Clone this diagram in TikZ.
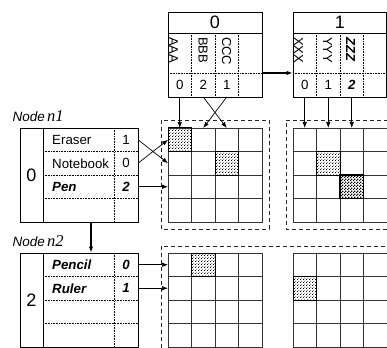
\documentclass[tikz,border=0pt]{standalone}
\usepackage{fontspec}
\setmainfont{Liberation Sans}
\newfontfamily\itserif{Liberation Serif}
\usetikzlibrary{arrows.meta,patterns}

% fine staggered dots for marked cells
\pgfdeclarepatternformonly{finedots}{\pgfqpoint{0pt}{0pt}}{\pgfqpoint{2.6pt}{2.6pt}}{\pgfqpoint{2.6pt}{2.6pt}}{%
  \pgfpathrectangle{\pgfqpoint{0.2pt}{0.2pt}}{\pgfqpoint{0.75pt}{0.75pt}}%
  \pgfpathrectangle{\pgfqpoint{1.5pt}{1.5pt}}{\pgfqpoint{0.75pt}{0.75pt}}%
  \pgfusepath{fill}}
% dense checkerboard for the strongly marked cell
\pgfdeclarepatternformonly{finechecks}{\pgfqpoint{0pt}{0pt}}{\pgfqpoint{2.6pt}{2.6pt}}{\pgfqpoint{2.6pt}{2.6pt}}{%
  \pgfpathrectangle{\pgfqpoint{0pt}{0pt}}{\pgfqpoint{1.3pt}{1.3pt}}%
  \pgfpathrectangle{\pgfqpoint{1.3pt}{1.3pt}}{\pgfqpoint{1.3pt}{1.3pt}}%
  \pgfusepath{fill}}

\tikzset{
  box/.style={draw, line width=0.8pt},
  dotline/.style={densely dotted, line width=0.6pt},
  gcell/.style={draw=black!80, line width=0.7pt, minimum size=23.5pt, inner sep=0pt, outer sep=0pt},
  hotcell/.style={draw=black, line width=1pt},
  frame/.style={dash pattern=on 4pt off 3pt, line width=0.7pt, draw=black!85},
  link/.style={-{Latex[length=6pt,width=4.5pt]}, line width=0.7pt},
  title/.style={font=\fontsize{18}{20}\selectfont, inner sep=0pt},
  vlab/.style={rotate=-90, anchor=west, inner sep=0pt, font=\fontsize{13}{15}\selectfont},
  numcell/.style={minimum width=23.5pt, minimum height=23.5pt, inner sep=0pt, outer sep=0pt, font=\fontsize{13.3}{15}\selectfont},
  itemname/.style={anchor=west, inner sep=0pt, font=\fontsize{13.3}{15}\selectfont},
  strong/.style={font=\fontsize{13.3}{15}\selectfont\bfseries\itshape},
  nodelabel/.style={anchor=base west, inner sep=0pt, font=\fontsize{13.5}{15}\selectfont\itshape},
}

\begin{document}
\begin{tikzpicture}[x=1pt, y=-1pt]
\useasboundingbox (0,0) rectangle (387,347);
\clip (0,0) rectangle (387,347);

% ---- 4x4 grids ----
\foreach \g/\gx/\gy in {A/168/128, B/293/128, C/168/253, D/293/253}
  \foreach \r in {0,1,2,3}
    \foreach \c in {0,1,2,3}
      \node[gcell] (\g\r\c) at ({\gx+11.75+23.5*\c},{\gy+11.75+23.5*\r}) {};

% marked cells
\foreach \k in {A00, A12, B11, C01, D10}
  \draw[hotcell, pattern=finedots] (\k.north west) rectangle (\k.south east);
\draw[hotcell, line width=1.3pt, pattern=finechecks] (B22.north west) rectangle (B22.south east);

% ---- dashed frames ----
\draw[frame] (161,120) rectangle (269,229);
\draw[frame] (395,120) -- (286,120) -- (286,229) -- (395,229);
\draw[frame] (161,355) -- (161,246) -- (395,246);

% ---- top box 0 ----
\node[box, minimum width=94pt, minimum height=85pt, inner sep=0pt] (t0) at (215,54.5) {};
\draw[box] (168,33) -- (262,33);
\draw[dotline] (168,73) -- (262,73);
\foreach \x in {191.5, 215, 238.5} \draw[dotline] (\x,33) -- (\x,97);
\node[title] (t0h) at (215,22.5) {0};
\node[vlab] (t0a) at (173.5,37) {AAA};
\node[vlab] (t0b) at (203,37) {BBB};
\node[vlab] (t0c) at (226.5,37) {CCC};
\node[numcell] (t0n0) at (179.75,85.25) {0};
\node[numcell] (t0n1) at (203.25,85.25) {2};
\node[numcell] (t0n2) at (226.75,85.25) {1};

% ---- top box 1 ----
\node[box, minimum width=93.5pt, minimum height=85pt, inner sep=0pt] (t1) at (339.75,54.5) {};
\draw[box] (293,33) -- (386.5,33);
\draw[dotline] (293,73) -- (386.5,73);
\foreach \x in {316.5, 340, 363.5} \draw[dotline] (\x,33) -- (\x,97);
\node[title] (t1h) at (339.75,22.5) {1};
\node[vlab] (t1a) at (298.5,37) {XXX};
\node[vlab] (t1b) at (327.5,37) {YYY};
\node[vlab, font=\fontsize{13}{15}\selectfont\bfseries\itshape] (t1c) at (350.5,37) {ZZZ};
\node[numcell] (t1n0) at (304.75,85.25) {0};
\node[numcell] (t1n1) at (328.25,85.25) {1};
\node[numcell, strong] (t1n2) at (351.75,85.25) {2};

% ---- node n1 ----
\node[nodelabel] (lab1) at (12.5,122) {Node\,{\itserif\fontsize{16.5}{18}\selectfont n1}};
\node[box, minimum width=118pt, minimum height=94pt, inner sep=0pt] (n1) at (79,175) {};
\draw[box] (43,128) -- (43,222);
\draw[dotline] (114,128) -- (114,222);
\foreach \y in {151.5, 175, 198.5} \draw[dotline] (43,\y) -- (138,\y);
\node[title] (n1k) at (31.5,175) {0};
\node[itemname] (n1a) at (52,139.75) {Eraser};
\node[itemname] (n1b) at (52,163.25) {Notebook};
\node[itemname, strong] (n1c) at (52,186.75) {Pen};
\node[numcell, minimum width=24pt] (n1v0) at (126,139.75) {1};
\node[numcell, minimum width=24pt] (n1v1) at (126,163.25) {0};
\node[numcell, minimum width=24pt, strong] (n1v2) at (126,186.75) {2};

% ---- node n2 ----
\node[nodelabel] (lab2) at (12.5,246) {Node\,{\itserif\fontsize{16.5}{18}\selectfont n2}};
\node[box, minimum width=118pt, minimum height=94pt, inner sep=0pt] (n2) at (79,300) {};
\draw[box] (43,253) -- (43,347);
\draw[dotline] (114,253) -- (114,347);
\foreach \y in {276.5, 300, 323.5} \draw[dotline] (43,\y) -- (138,\y);
\node[title] (n2k) at (31.5,300) {2};
\node[itemname, strong] (n2a) at (52,264.75) {Pencil};
\node[itemname, strong] (n2b) at (52,288.25) {Ruler};
\node[numcell, minimum width=24pt, strong] (n2v0) at (126,264.75) {0};
\node[numcell, minimum width=24pt, strong] (n2v1) at (126,288.25) {1};

% ---- connectors ----
\draw[link, line width=1.4pt] ([yshift=-18.5pt]t0.east) -- ([yshift=-18.5pt]t1.west);
\draw[link] (t0n0.south) -- (A00.north);
\draw[link] (t0n1.south) -- (A02.north);
\draw[link] (t0n2.south) -- (A01.north);
\draw[link] (t1n0.south) -- (B00.north);
\draw[link] (t1n1.south) -- (B01.north);
\draw[link] (t1n2.south) -- (B02.north);
\draw[link] (n1v0.east) -- (A10.west);
\draw[link] (n1v1.east) -- (A00.west);
\draw[link] (n1v2.east) -- (A20.west);
\draw[link, line width=1.2pt] ([xshift=12pt]n1.south) -- ([xshift=12pt]n2.north);
\draw[link] (n2v0.east) -- (C00.west);
\draw[link] (n2v1.east) -- (C10.west);
\end{tikzpicture}
\end{document}
